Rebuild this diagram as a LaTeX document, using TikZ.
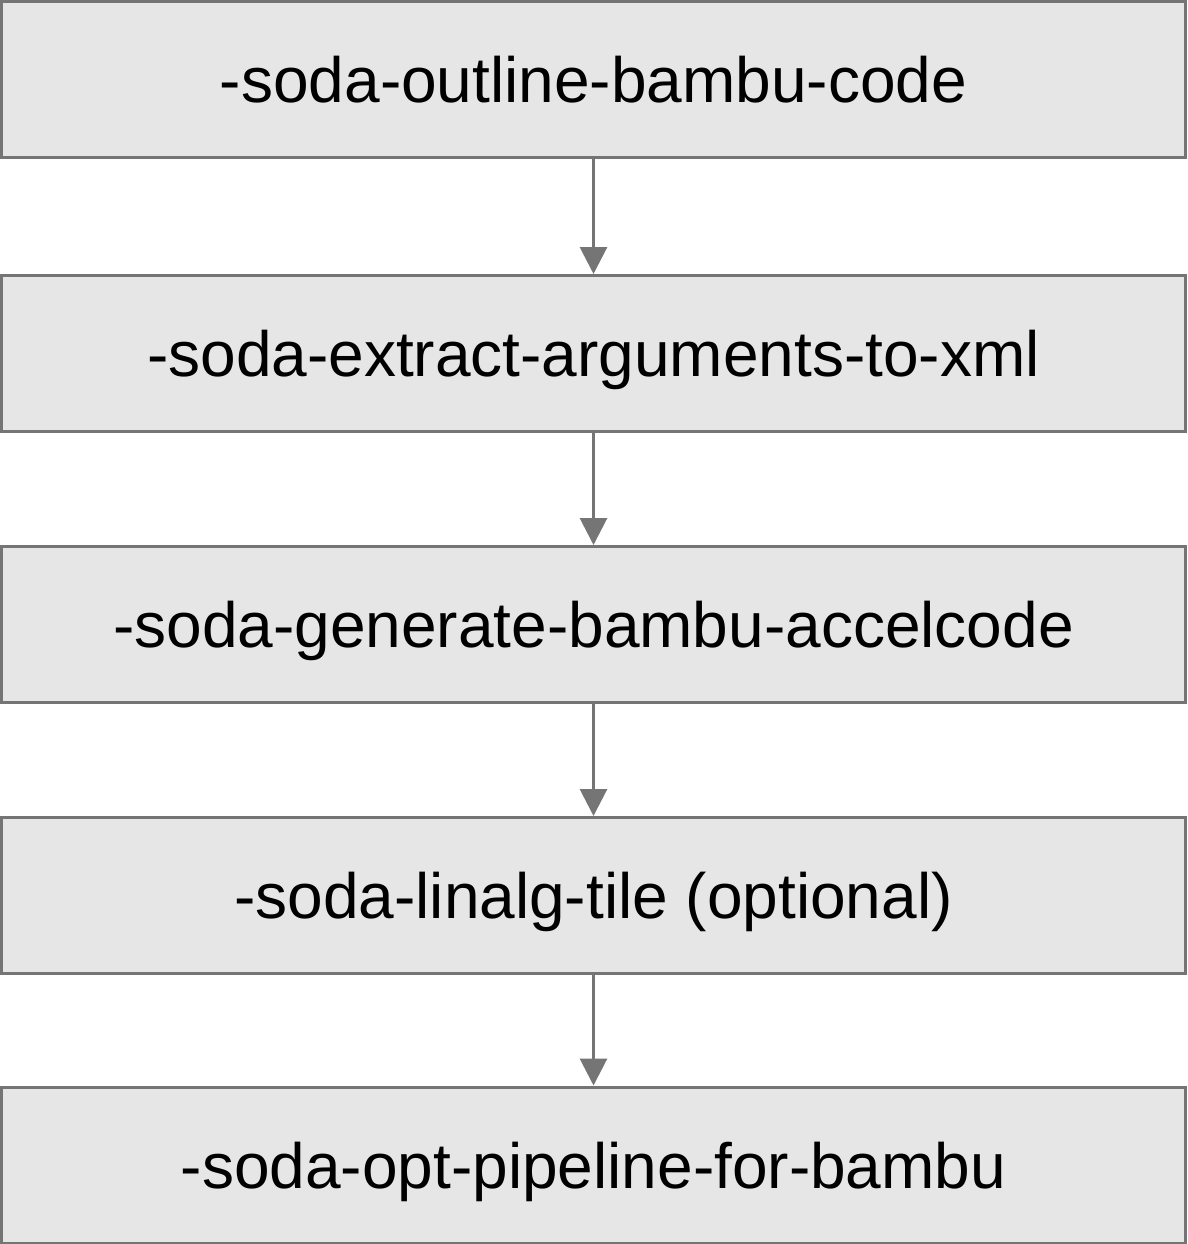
\documentclass[tikz,border=0pt]{standalone}
\usepackage{fontspec}
\setmainfont{Liberation Sans}
\usetikzlibrary{arrows.meta}
\definecolor{boxfill}{HTML}{E6E6E6}
\definecolor{boxline}{HTML}{757575}
\begin{document}
\begin{tikzpicture}[x=1pt,y=-1pt,
  passbox/.style={draw=boxline, fill=boxfill, line width=3pt, minimum width=1184pt, minimum height=156pt, inner sep=0pt, text height=50pt, text depth=4pt, font=\fontsize{64}{70}\selectfont, anchor=center},
  flow/.style={draw=boxline, line width=3pt, -{Triangle[width=27pt,length=27pt]}}]
\useasboundingbox (0,0) rectangle (1187,1244);
\node[passbox] (b1) at (593.5,79.5) {-soda-outline-bambu-code};
\node[passbox] (b2) at (593.5,353.5) {-soda-extract-arguments-to-xml};
\node[passbox] (b3) at (593.5,624.5) {-soda-generate-bambu-accelcode};
\node[passbox] (b4) at (593.5,895.5) {-soda-linalg-tile (optional)};
\node[passbox] (b5) at (593.5,1165) {-soda-opt-pipeline-for-bambu};
\draw[flow] (b1.south) -- (b2.north);
\draw[flow] (b2.south) -- (b3.north);
\draw[flow] (b3.south) -- (b4.north);
\draw[flow] (b4.south) -- (b5.north);
\end{tikzpicture}
\end{document}
